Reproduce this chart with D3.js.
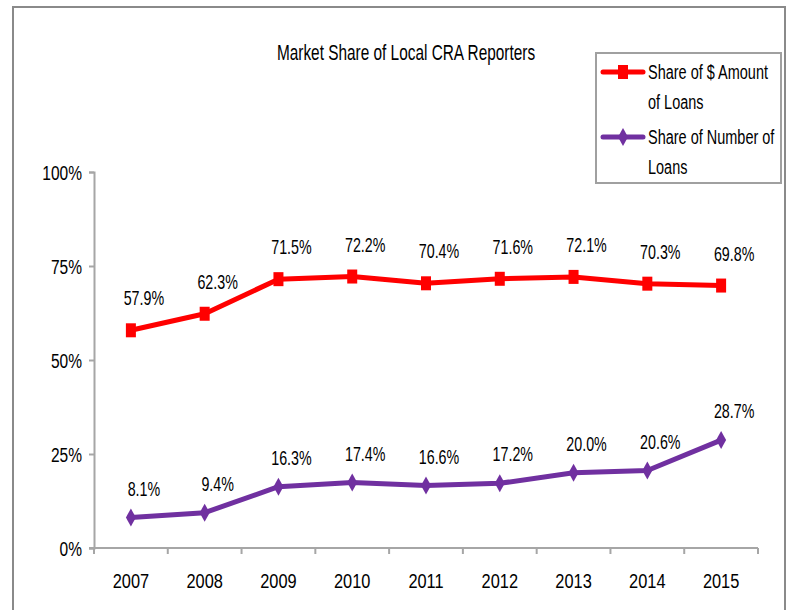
<!DOCTYPE html>
<html>
<head>
<meta charset="utf-8">
<script src="https://cdn.jsdelivr.net/npm/d3@7"></script>
<style>
  body { margin: 0; background: #fff; }
  text { font-family: "Liberation Sans", Arial, sans-serif; fill: #000; }
</style>
</head>
<body>
<div id="chart"></div>
<script>
const width = 787
const height = 610

// datos
const years = ["2007", "2008", "2009", "2010", "2011", "2012", "2013", "2014", "2015"]
const amountShare = [57.9, 62.3, 71.5, 72.2, 70.4, 71.6, 72.1, 70.3, 69.8]
const numberShare = [8.1, 9.4, 16.3, 17.4, 16.6, 17.2, 20.0, 20.6, 28.7]
const yTicks = [0, 25, 50, 75, 100]
const seriesNames = [["Share of $ Amount", "of Loans"], ["Share of Number of", "Loans"]]

const svg = d3.select("div#chart")
    .append("svg")
    .attr("width", width)
    .attr("height", height)

// la fuente original es estrecha: comprimimos el texto en horizontal
function narrow(sel, sx) {
    sel.each(function () {
        const t = d3.select(this)
        const tx = +t.attr("x") || 0, ty = +t.attr("y") || 0
        t.attr("x", null).attr("y", null)
            .attr("transform", `translate(${tx},${ty}) scale(${sx},1)`)
    })
}

// marco exterior
svg.append("rect")
    .attr("x", 13).attr("y", 7)
    .attr("width", 772).attr("height", 620)
    .attr("fill", "none")
    .attr("stroke", "#8a8a8a")
    .attr("stroke-width", 2)

svg.append("text")
    .attr("x", 406).attr("y", 60)
    .attr("text-anchor", "middle")
    .style("font-size", "22px")
    .text("Market Share of Local CRA Reporters")
    .call(narrow, 0.7)

const x = d3.scaleBand().domain(years).range([94, 758]).padding(0)
const y = d3.scaleLinear().domain([0, 100]).range([548, 172])

// eje Y
const yAxis = d3.axisLeft(y).tickValues(yTicks).tickFormat(d => d + "%").tickSize(5).tickPadding(7)
const yGroup = svg.append("g").attr("transform", "translate(94,0)").call(yAxis)
yGroup.select(".domain").attr("stroke", "#a6a6a6").attr("stroke-width", 2)
yGroup.selectAll(".tick line").attr("stroke", "#a6a6a6").attr("stroke-width", 2)
yGroup.selectAll(".tick text")
    .style("font-size", "21px").attr("fill", "#000")
    .attr("dy", "0.36em")
    .call(narrow, 0.74)

// eje X con ticks en los bordes de cada banda
const xGroup = svg.append("g").attr("transform", "translate(0,548)")
xGroup.append("line")
    .attr("x1", 89).attr("x2", 758)
    .attr("stroke", "#a6a6a6").attr("stroke-width", 2)
xGroup.selectAll("line.tick").data(years.concat(["end"]))
    .join("line")
    .attr("class", "tick")
    .attr("x1", (d, i) => x.range()[0] + i * x.step())
    .attr("x2", (d, i) => x.range()[0] + i * x.step())
    .attr("y1", 0).attr("y2", 6)
    .attr("stroke", "#a6a6a6").attr("stroke-width", 2)
xGroup.selectAll("text").data(years)
    .join("text")
    .attr("x", d => x(d) + x.bandwidth() / 2)
    .attr("y", 40)
    .attr("text-anchor", "middle")
    .style("font-size", "21px")
    .text(d => d)
    .call(narrow, 0.78)

const cx = d => x(d) + x.bandwidth() / 2
const line = d3.line().x(d => cx(d.year)).y(d => y(d.value))

const series = [
    {values: amountShare, color: "#ff0000", marker: "square", lift: 25},
    {values: numberShare, color: "#7030a0", marker: "diamond", lift: 22}
]

const diamond = "M0,-9L5,0L0,9L-5,0Z"

series.forEach(s => {
    const pts = years.map((yr, i) => ({year: yr, value: s.values[i]}))
    const g = svg.append("g")
    g.append("path")
        .attr("d", line(pts))
        .attr("fill", "none")
        .attr("stroke", s.color)
        .attr("stroke-width", 5)
        .attr("stroke-linejoin", "round")
    if (s.marker == "square") {
        g.selectAll("rect").data(pts).join("rect")
            .attr("x", d => cx(d.year) - 5)
            .attr("y", d => y(d.value) - 7)
            .attr("width", 10).attr("height", 14)
            .attr("fill", s.color)
    } else {
        g.selectAll("path.m").data(pts).join("path")
            .attr("class", "m")
            .attr("d", diamond)
            .attr("transform", d => `translate(${cx(d.year)},${y(d.value)})`)
            .attr("fill", s.color)
    }
    g.selectAll("text").data(pts).join("text")
        .attr("x", d => cx(d.year) + 13)
        .attr("y", d => y(d.value) - s.lift)
        .attr("text-anchor", "middle")
        .style("font-size", "21px")
        .text(d => d.value.toFixed(1) + "%")
        .call(narrow, 0.68)
})

// leyenda
const legend = svg.append("g")
legend.append("rect")
    .attr("x", 596).attr("y", 53)
    .attr("width", 185).attr("height", 130)
    .attr("fill", "#fff")
    .attr("stroke", "#a0a0a0").attr("stroke-width", 2)

series.forEach((s, i) => {
    const ly = 72 + i * 65
    legend.append("line")
        .attr("x1", 603).attr("x2", 643)
        .attr("y1", ly).attr("y2", ly)
        .attr("stroke", s.color).attr("stroke-width", 5)
        .attr("stroke-linecap", "round")
    if (s.marker == "square") {
        legend.append("rect")
            .attr("x", 618).attr("y", ly - 7)
            .attr("width", 10).attr("height", 14)
            .attr("fill", s.color)
    } else {
        legend.append("path")
            .attr("d", diamond)
            .attr("transform", `translate(623,${ly})`)
            .attr("fill", s.color)
    }
    seriesNames[i].forEach((t, j) => {
        legend.append("text")
            .attr("x", 648).attr("y", ly + 7 + j * 30)
            .style("font-size", "21px")
            .text(t)
            .call(narrow, 0.69)
    })
})
</script>
</body>
</html>
